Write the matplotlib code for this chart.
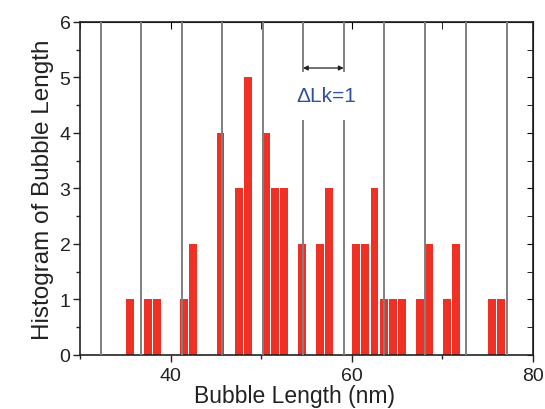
# Histogram of bubble length with dLk=1 spacing lines
import matplotlib
matplotlib.use('Agg')
import matplotlib.pyplot as plt
from matplotlib.ticker import MultipleLocator

plt.rcParams['font.family'] = ['Liberation Sans', 'DejaVu Sans']

bins = [35, 37, 38, 41, 42, 45, 47, 48, 50, 51, 52, 54, 56, 57,
        60, 61, 62, 63, 64, 65, 67, 68, 70, 71, 75, 76]
counts = [1, 1, 1, 1, 2, 4, 3, 5, 4, 3, 3, 2, 2, 3,
          2, 2, 3, 1, 1, 1, 1, 2, 1, 2, 1, 1]

# positions of the dLk lines (nm)
lk_lines = [32.26, 36.72, 41.2, 45.7, 50.15, 54.6, 59.1, 63.6, 68.1, 72.6, 77.08]
gap = (4.22, 5.12)   # lines 54.6 / 59.1 are cut around the label

fig = plt.figure(figsize=(5.45, 4.1), dpi=100)
ax = fig.add_axes([0.147, 0.132, 0.831, 0.812])

ax.bar([b + 0.5 for b in bins], counts, width=0.88, color='#ee3124', zorder=2)

for x in lk_lines:
    if x in (54.6, 59.1):
        ax.plot([x, x], [0, gap[0]], color='#808080', lw=1.4, zorder=3)
        ax.plot([x, x], [gap[1], 6], color='#808080', lw=1.4, zorder=3)
    else:
        ax.axvline(x, color='#808080', lw=1.4, zorder=3)

ax.annotate('', xy=(59.1, 5.17), xytext=(54.6, 5.17),
            arrowprops=dict(arrowstyle='<|-|>', color='#222222', lw=0.9,
                            mutation_scale=7, shrinkA=0, shrinkB=0))
ax.text(57.2, 4.67, '\u0394Lk=1', color='#3050a0', fontsize=15,
        ha='center', va='center')

ax.set_xlim(30, 80)
ax.set_ylim(0, 6)
ax.xaxis.set_major_locator(MultipleLocator(20))
ax.xaxis.set_minor_locator(MultipleLocator(10))
ax.yaxis.set_major_locator(MultipleLocator(1))
ax.yaxis.set_minor_locator(MultipleLocator(0.5))
ax.set_xticks([40, 60, 80])
ax.tick_params(which='both', direction='out', top=False, right=False,
               labelsize=14, width=1, color='#222222', pad=2)
ax.tick_params(axis='x', pad=4)
ax.tick_params(which='major', length=5)
ax.tick_params(which='minor', length=3)

# mirror ticks on top/right pointing inward
sec = ax.secondary_xaxis('top')
sec.set_xticks([40, 60, 80])
sec.xaxis.set_minor_locator(MultipleLocator(10))
sec.tick_params(which='both', direction='in', labeltop=False, length=5)
sec2 = ax.secondary_yaxis('right')
sec2.yaxis.set_major_locator(MultipleLocator(1))
sec2.yaxis.set_minor_locator(MultipleLocator(0.5))
sec2.tick_params(which='both', direction='in', labelright=False, length=4)

for s in ax.spines.values():
    s.set_linewidth(1.2)
    s.set_color('#222222')

ax.set_xlabel('Bubble Length (nm)', fontsize=16.5, labelpad=0, color='#222222')
ax.xaxis.set_label_coords(0.474, -0.088)
ax.set_ylabel('Histogram of Bubble Length', fontsize=17.5, labelpad=4, color='#222222')
ax.tick_params(labelcolor='#222222')

fig.savefig('out.png', dpi=100)
